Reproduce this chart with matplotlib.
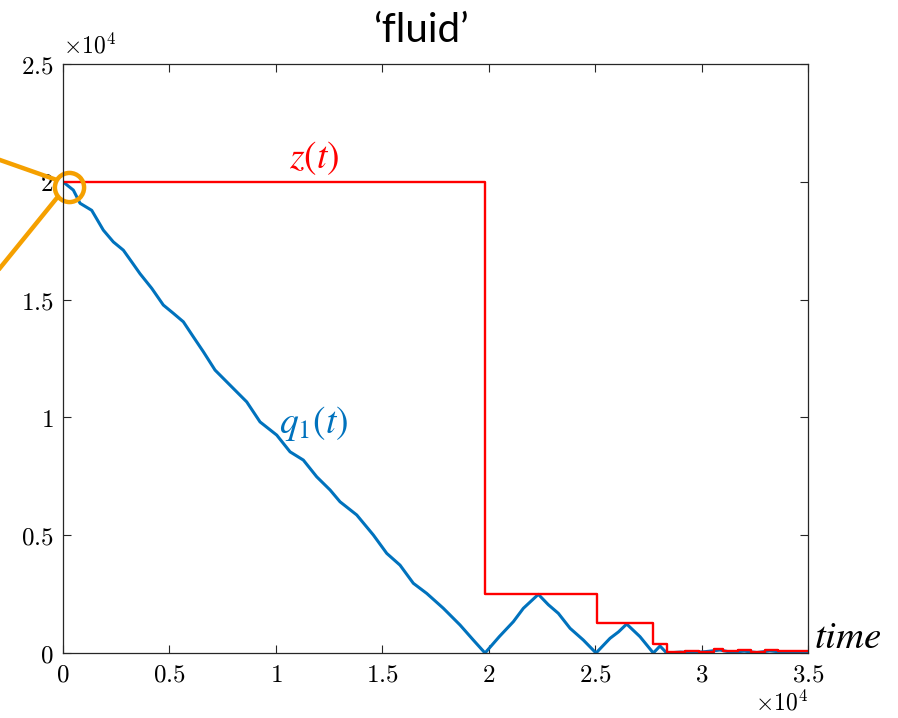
import matplotlib
matplotlib.use('Agg')
import matplotlib.pyplot as plt
from matplotlib.ticker import FuncFormatter
from matplotlib.lines import Line2D

# queue length q1(t) under the fluid policy
q1_t = [0, 484, 799, 1348, 1893, 2363, 2833, 3227, 3617, 4167, 4712, 5182,
        5652, 6122, 6591, 7141, 7846, 8630, 9255, 10040, 10665, 11290, 11918,
        12547, 13013, 13798, 14578, 15208, 15832, 16457, 17087, 17866, 18651,
        19276, 19825, 20500, 21156, 21625, 22330, 22800, 23270, 23820, 24443,
        25040, 25698, 26100, 26480, 27107, 27732, 28047, 28360, 29000, 29600,
        30200, 30866, 31400, 32000, 32600, 33200, 33800, 34400, 35000]
q1_v = [20000, 19650, 19090, 18790, 17950, 17450, 17100, 16600, 16100, 15480,
        14770, 14420, 14060, 13420, 12790, 12010, 11370, 10660, 9810, 9250,
        8540, 8190, 7480, 6920, 6420, 5860, 5010, 4230, 3730, 2960, 2530, 1900,
        1190, 550, 0, 700, 1330, 1897, 2490, 2050, 1684, 1050, 552, 0,
        624, 900, 1231, 693, 0, 297, 0, 40, 20, 60, 127, 30, 80, 20, 90, 40, 60, 30]

# fluid level z(t), piecewise constant
z_t = [0, 19825, 25080, 27732, 28390, 29200, 29900, 30600, 31000, 31700,
       32300, 33000, 33600, 34300, 35000]
z_v = [20000, 2504, 1287, 382, 40, 70, 50, 160, 90, 110, 60, 120, 70, 80, 80]

xticks = [0, 5000, 10000, 15000, 20000, 25000, 30000, 35000]
yticks = [0, 5000, 10000, 15000, 20000, 25000]

plt.rcParams['mathtext.fontset'] = 'cm'

fig = plt.figure(figsize=(8.98, 7.18), dpi=100)
ax = fig.add_axes([0.0702, 0.0905, 0.8296, 0.8203])

ax.plot(q1_t, q1_v, color='#0072BD', lw=2.2)
ax.step(z_t, z_v, where='post', color='#FF0000', lw=1.7)

ax.set_xlim(0, 35000)
ax.set_ylim(0, 25000)
ax.set_xticks(xticks)
ax.set_yticks(yticks)
fmt = FuncFormatter(lambda v, _: '$%g$' % (v / 1e4))
ax.xaxis.set_major_formatter(fmt)
ax.yaxis.set_major_formatter(fmt)
ax.tick_params(direction='in', length=6, width=0.8, color='#262626',
               labelsize=18, top=True, right=True, pad=7)
for s in ax.spines.values():
    s.set_color('#262626')
    s.set_linewidth(0.9)

# exponent labels, MATLAB style
fig.text(63 / 898, 1 - 46 / 718, r'$\times10^4$', fontsize=17, va='center', ha='left')
fig.text(808 / 898, 1 - 703 / 718, r'$\times10^4$', fontsize=17, va='center', ha='right')

fig.text(421 / 898, 1 - 30 / 718, '\u2018fluid\u2019', fontsize=29, family='Lato',
         ha='center', va='center')

ax.text(11800, 21000, r'$z(t)$', color='#FF0000', fontsize=27,
        math_fontfamily='stix', ha='center', va='center')
ax.text(10150, 9750, r'$q_1(t)$', color='#0072BD', fontsize=27,
        math_fontfamily='stix', ha='left', va='center')
fig.text(814 / 898, 1 - 637 / 718, r'$time$', fontsize=28,
         math_fontfamily='stix', ha='left', va='center')

# highlight on the starting point
ax.plot([260], [19800], marker='o', markersize=21, markerfacecolor='none',
        markeredgecolor='#F5A000', markeredgewidth=3.2, clip_on=False)
for x0, y0, x1, y1 in [(0, 160, 54, 179), (0, 268, 56, 199)]:
    fig.add_artist(Line2D([x0 / 898, x1 / 898], [1 - y0 / 718, 1 - y1 / 718],
                          color='#F5A000', lw=3.2))

fig.savefig('out.png', dpi=100)
